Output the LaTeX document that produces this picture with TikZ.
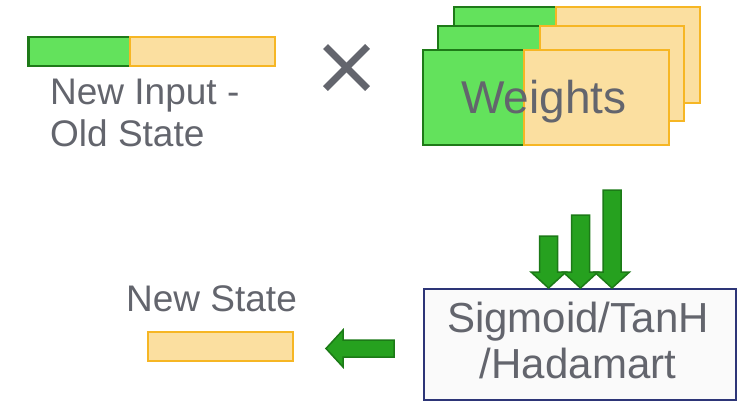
\documentclass[tikz,border=0pt]{standalone}
\usepackage{fontspec}
\setmainfont{Liberation Sans}
\usetikzlibrary{calc}
\definecolor{txtgray}{RGB}{99,101,109}
\definecolor{gfill}{RGB}{99,226,92}
\definecolor{gline}{RGB}{30,122,24}
\definecolor{ofill}{RGB}{251,223,160}
\definecolor{oline}{RGB}{246,182,36}
\definecolor{afill}{RGB}{38,161,31}
\definecolor{aline}{RGB}{28,122,23}
\definecolor{bline}{RGB}{45,53,119}
\definecolor{bfill}{RGB}{250,250,250}
\tikzset{
  greencell/.style={draw=gline, fill=gfill, line width=2.2pt},
  orangecell/.style={draw=oline, fill=ofill, line width=2.2pt},
  blockarrow/.style={draw=aline, fill=afill, line width=1.5pt, line join=miter},
  txtlabel/.style={text=txtgray, inner sep=0pt},
}
\begin{document}
\begin{tikzpicture}[x=1pt, y=-1pt]
\useasboundingbox (0,0) rectangle (748,402);

% input vector: new input part and old state part
\draw[greencell] (28.5,36.7) rectangle (130,65.7);
\draw[orangecell] (130,36.7) rectangle (275,65.7);
\node[txtlabel, anchor=north west, align=left,
      font=\fontsize{37}{42}\selectfont] (inlabel) at (50,78.5)
      {New Input -\\Old State};

% multiplication sign
\coordinate (mul) at (346.5,67.5);
\draw[txtgray, line width=7pt] ($(mul)+(-21,-21)$) -- ($(mul)+(21,21)$);
\draw[txtgray, line width=7pt] ($(mul)+(-21,21)$) -- ($(mul)+(21,-21)$);

% stacked weight matrices (back to front)
\draw[greencell] (454,7) rectangle (556,103);
\draw[orangecell] (556,7) rectangle (700,103);
\draw[greencell] (438,26) rectangle (540,121);
\draw[orangecell] (540,26) rectangle (684,121);
\draw[greencell] (423,50) rectangle (524,145);
\draw[orangecell] (524,50) rectangle (669,145);
\node[txtlabel, anchor=base, font=\fontsize{46}{50}\selectfont] (weights)
      at (544,113) {Weights};

% activation box
\node[draw=bline, fill=bfill, line width=2pt, minimum width=312pt,
      minimum height=111pt, inner sep=0pt] (act) at (580,344.5) {};
\node[txtlabel, anchor=north, align=center,
      font=\fontsize{42}{46}\selectfont] (actlabel) at (578,302)
      {Sigmoid/TanH\\/Hadamart};

% three block arrows into the activation box
\foreach \x/\top in {548.5/236, 580.5/215, 612/190} {
  \draw[blockarrow] (\x-9,\top) -- (\x+9,\top) -- (\x+9,272)
    -- (\x+17.5,272) -- (\x,288) -- (\x-17.5,272) -- (\x-9,272) -- cycle;
}

% new state output
\node[txtlabel, anchor=base west, font=\fontsize{37}{42}\selectfont]
      (outlabel) at (126,311) {New State};
\draw[orangecell] (148,332) rectangle (293,361);

% block arrow pointing to the new state
\draw[blockarrow] (394,340) -- (343,340) -- (343,330) -- (326,348.5)
  -- (343,367) -- (343,357) -- (394,357) -- cycle;
\end{tikzpicture}
\end{document}
